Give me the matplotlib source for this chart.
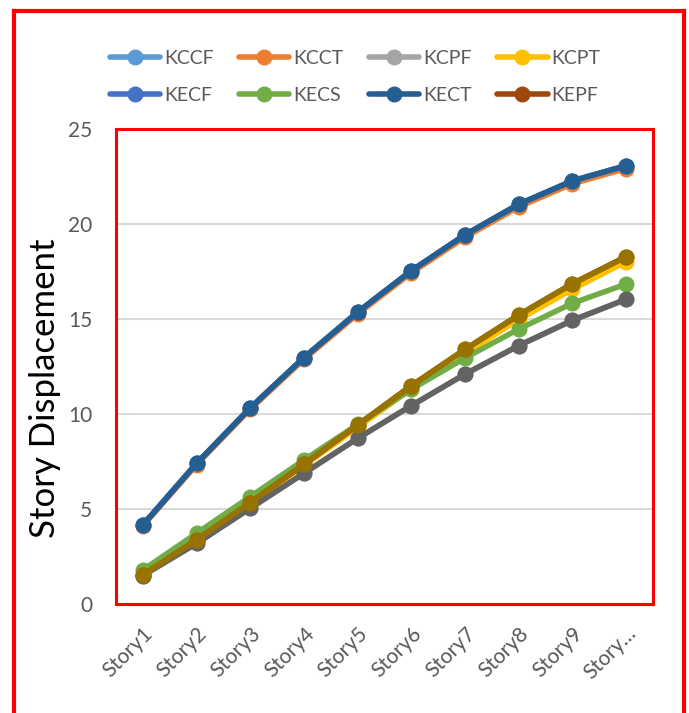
import numpy as np
import matplotlib
matplotlib.use("Agg")
import matplotlib.pyplot as plt
from matplotlib.lines import Line2D

plt.rcParams['font.family'] = ['Lato', 'DejaVu Sans']

# categories
stories = ['Story1', 'Story2', 'Story3', 'Story4', 'Story5',
           'Story6', 'Story7', 'Story8', 'Story9', 'Story…']

# series values
kccf = [4.16, 7.40, 10.32, 12.97, 15.36, 17.54, 19.43, 21.04, 22.27, 23.07]
kcct = [4.10, 7.33, 10.25, 12.88, 15.26, 17.43, 19.30, 20.90, 22.12, 22.92]
kcpf = [1.50, 3.19, 5.04, 6.88, 8.72, 10.44, 12.10, 13.60, 14.93, 16.04]
kcpt = [1.55, 3.35, 5.28, 7.28, 9.30, 11.32, 13.20, 14.97, 16.56, 18.02]
kecf = [4.16, 7.40, 10.32, 12.97, 15.36, 17.54, 19.43, 21.04, 22.27, 23.07]
kecs = [1.79, 3.72, 5.65, 7.58, 9.45, 11.30, 12.95, 14.47, 15.83, 16.84]
kect = [4.16, 7.40, 10.32, 12.97, 15.36, 17.54, 19.43, 21.04, 22.27, 23.07]
kepf = [1.53, 3.37, 5.33, 7.35, 9.42, 11.49, 13.40, 15.21, 16.86, 18.28]
# two more series whose legend entries are cut off in the original
extra9 = [1.50, 3.19, 5.04, 6.88, 8.72, 10.44, 12.10, 13.60, 14.93, 16.04]
extra10 = [1.53, 3.37, 5.33, 7.35, 9.42, 11.49, 13.40, 15.21, 16.86, 18.28]

names = ['KCCF', 'KCCT', 'KCPF', 'KCPT', 'KECF', 'KECS', 'KECT', 'KEPF', None, None]
values = [kccf, kcct, kcpf, kcpt, kecf, kecs, kect, kepf, extra9, extra10]
colors = ['#5B9BD5', '#ED7D31', '#A5A5A5', '#FFC000', '#4472C4',
          '#70AD47', '#255E91', '#9E480E', '#636363', '#997300']

W, H = 689, 713
fig = plt.figure(figsize=(W / 100, H / 100), dpi=100)
ax = fig.add_axes([116 / W, 1 - 604 / H, (653 - 116) / W, (604 - 129) / H])

x = np.arange(len(stories))
handles = []
for i, (nm, vals, c) in enumerate(zip(names, values, colors)):
    ax.plot(x, vals, color=c, lw=4, marker='o', ms=10.5, zorder=3 + i,
            solid_capstyle='round')
    if nm is not None:
        handles.append(Line2D([], [], color=c, lw=4, marker='o', ms=10.5,
                              solid_capstyle='round', label=nm))

ax.set_xlim(-0.5, len(stories) - 0.5)
ax.set_ylim(0, 25)
ax.set_yticks([0, 5, 10, 15, 20, 25])
ax.set_xticks(x)
ax.set_xticklabels(stories, rotation=45, ha='right', rotation_mode='anchor')
ax.tick_params(axis='both', length=0, labelsize=15, labelcolor='#595959')
ax.tick_params(axis='y', pad=17)
ax.tick_params(axis='x', pad=14)
ax.grid(axis='y', color='#D9D9D9', lw=1.5, zorder=0)
ax.set_axisbelow(True)
for sp in ax.spines.values():
    sp.set_color('#FF0000')
    sp.set_linewidth(2.2)
    sp.set_zorder(20)

fig.text(45 / W, 1 - 388 / H, 'Story Displacement', rotation=90,
         ha='center', va='center', fontsize=25, color='black')

# legend fills by column, so interleave to get row order
order = [0, 4, 1, 5, 2, 6, 3, 7]
fig.legend(handles=[handles[k] for k in order], ncol=4, frameon=False,
           loc='center', bbox_to_anchor=(355 / W, 1 - 77 / H), fontsize=14,
           labelcolor='#595959', handlelength=2.6, handletextpad=0.2,
           columnspacing=1.3, labelspacing=1.0)

# outer red frame
fig.add_artist(Line2D([14 / W, 14 / W], [0, 1 - 11 / H], color='#FF0000', lw=3,
                      transform=fig.transFigure))
fig.add_artist(Line2D([14 / W, 684 / W], [1 - 11 / H, 1 - 11 / H], color='#FF0000',
                      lw=3, transform=fig.transFigure))
fig.add_artist(Line2D([684 / W, 684 / W], [0, 1 - 11 / H], color='#FF0000', lw=3,
                      transform=fig.transFigure))

fig.savefig('out.png', dpi=100)
